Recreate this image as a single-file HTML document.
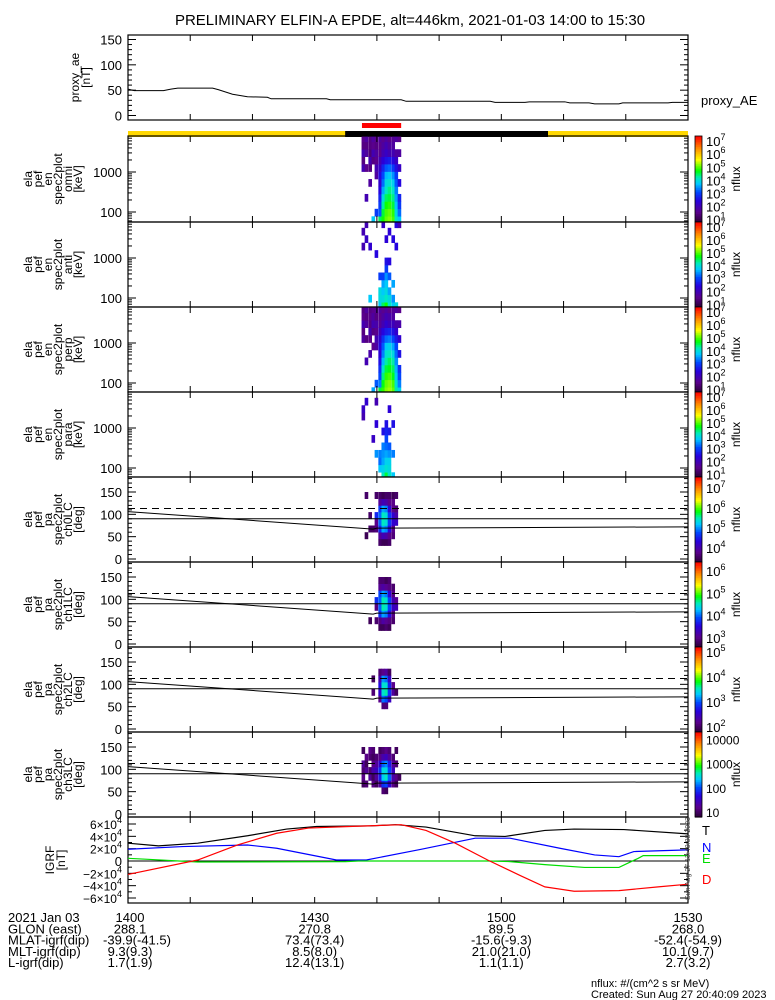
<!DOCTYPE html>
<html><head><meta charset="utf-8">
<style>
body{margin:0;background:#fff}
svg{display:block;font-family:"Liberation Sans",sans-serif}
</style></head>
<body>
<svg id="c" width="775" height="1000" viewBox="0 0 775 1000"></svg>
<script>
// ---------------- DATA ----------------
const aeTimes=[0,1,5.7,6.9,8,13.6,14.5,16.8,19.2,22.4,23,31.9,32.5,43.9,44.7,58.2,59,63.8,64.5,70.2,71,74.1,75,78.9,79.5,86.8,87.5,90];
const aeVals=[52,49,49,52,54,54,51,42,37,36,33,33,31,31,28,28,26,26,27,27,25,25,23,23,25,25,26,26];

const specTimes=[37.8,38.3,38.9,39.4,39.9,40.5,41.0,41.5,42.0,42.6,43.1,43.6];
const specEnergies=[63,97,149,228,350,538,826,1268,1947,2989,4589,7044];
const omniFlux=[
[0,0,0,0,0,0,0,2,1.5,2,1.5,1.6],
[0,0,0,2,0,0,0,1.6,0,1.8,1.5,1.8],
[0,0,0,0,0,1.8,0,1.5,2,1.4,1.5,1.5],
[3.8,0,0,0,0,0,0,0,1.5,2,1.6,1.8],
[0,3,0,0,0,0,1.8,2,1.6,1.8,1.5,1.6],
[4.5,3.2,3,2.8,2.5,2.3,2.5,2.2,2,1.6,1.6,1.8],
[4.8,4.6,4.3,4,3.6,3.3,3.1,2.8,2.4,2,1.8,1.6],
[5.1,5,4.8,4.5,4.2,4,3.7,3.2,2.6,2.2,2,1.8],
[5.2,5.1,4.9,4.6,4.4,4.1,3.8,3.3,2.7,2,1.8,1.6],
[5,4.9,4.6,4.4,4.2,3.9,3.5,3,2.5,2,1.8,1.7],
[4.2,4,3.8,3.6,3.4,3.2,3,2.6,2.2,1.8,0,1.8],
[3.8,3.3,3,2.8,0,2.5,0,2.2,0,1.8,0,1.6]];
const antiFlux=[
[0,0,0,0,0,0,0,0,2,0,2,0],
[0,0,0,0,0,0,0,0,0,2.2,0,2],
[0,3.8,0,0,0,0,0,0,2.3,0,0,0],
[0,0,0,0,0,0,0,0,0,0,0,0],
[0,0,0,0,0,0,0,2.5,0,0,0,0],
[3.8,4,4,0,3,0,0,0,0,0,0,0],
[4.5,4,3.8,3.6,3,0,0,0,0,0,0,2.2],
[4.8,4.2,4,3.8,3.5,3,2.6,0,0,2.4,0,0],
[4.2,4,3.6,0,3.2,0,2.5,0,0,0,2.4,0],
[3.8,3.5,0,3.6,0,0,0,0,0,2.5,0,0],
[4,0,0,0,0,0,0,0,2.5,0,0,2.5],
[0,0,0,0,0,0,0,0,0,0,0,2]];
const perpFlux=[
[0,0,0,0,0,0,0,1.8,1.5,2,1.6,1.5],
[0,0,0,0,2,0,0,1.5,0,1.8,1.5,1.8],
[0,0,0,0,0,1.9,0,1.6,2,1.5,1.6,1.5],
[3.6,0,0,0,0,0,1.6,0,1.5,2,1.8,1.6],
[0,3.2,0,0,0,0,1.8,2,1.6,1.9,1.5,1.7],
[4.6,3.4,3.1,2.9,2.6,2.4,2.5,2.3,2.1,1.7,1.6,1.8],
[4.9,4.7,4.4,4.1,3.7,3.4,3.2,2.9,2.5,2,1.8,1.6],
[5.2,5.1,4.9,4.6,4.3,4.1,3.8,3.3,2.7,2.3,2,1.8],
[5.3,5.2,5,4.7,4.5,4.2,3.9,3.4,2.8,2.1,1.9,1.6],
[5.1,5,4.7,4.5,4.3,4,3.6,3.1,2.6,2.1,1.8,1.7],
[4.3,4.1,3.9,3.7,3.5,3.3,3.1,2.7,2.3,1.9,0,1.8],
[3.9,3.4,3.1,2.9,0,2.6,0,2.3,0,1.9,0,1.6]];
const paraFlux=[
[0,0,0,0,0,0,0,0,2,2.2,0,0],
[0,0,0,0,0,0,0,0,0,0,2.3,0],
[0,0,0,0,0,0,0,0,0,0,0,0],
[0,0,0,0,0,2.2,0,0,0,0,0,0],
[0,0,0,3.5,0,0,0,2.4,0,0,2,0],
[0,3.8,3.3,3.4,0,0,0,0,0,0,0,0],
[4.2,3.9,3.6,3.5,3.4,0,2.6,0,0,0,0,0],
[4.6,4.1,3.9,3.6,3.3,3.1,2.8,2.6,0,0,0,0],
[4.2,4,3.9,3.5,3.2,0,2.7,0,0,2.4,0,0],
[3.8,0,0,3.4,0,0,0,2.6,0,0,0,0],
[0,0,0,0,0,0,0,0,0,0,0,0],
[0,0,0,0,0,0,0,0,0,0,0,0]];

const pitchBins=[7.5,22.5,37.5,52.5,67.5,82.5,97.5,112.5,127.5,142.5,157.5,172.5];
const ch0Flux=[
[0,0,0,0,0,0,0,0,0,0,0,0],
[0,0,0,3.5,0,0,0,0,0,3.6,0,0],
[0,0,0,0,3.6,0,3.6,0,0,0,0,0],
[0,0,0,0,3.6,0,0,0,0,0,0,0],
[0,0,0,0,3.7,3.8,4.6,0,0,3.6,0,0],
[0,0,3.6,3.9,4.6,4.9,4.9,4.7,3.9,3.6,0,0],
[0,0,3.5,4.1,5.1,5.5,5.5,5.1,4.1,3.5,0,0],
[0,0,3.5,4,5,5.4,5.4,5,4,3.6,0,0],
[0,0,3.6,3.8,4.4,4.7,4.7,4.3,3.8,3.6,0,0],
[0,0,0,3.7,3.8,4.3,4.3,3.8,3.8,3.5,0,0],
[0,0,0,0,0,4.2,4,3.7,0,3.6,0,0],
[0,0,0,0,0,0,0,0,0,0,0,0]];
const ch1Flux=[
[0,0,0,0,0,0,0,0,0,0,0,0],
[0,0,0,0,0,0,0,0,0,0,0,0],
[0,0,0,2.8,0,0,0,0,0,0,0,0],
[0,0,0,0,0,0,0,0,0,0,0,0],
[0,0,0,2.9,0,3.0,3.8,0,0,0,0,0],
[0,0,2.8,3.0,3.8,4.0,4.0,3.9,3.1,2.9,0,0],
[0,0,2.8,3.2,4.2,4.6,4.6,4.2,3.2,2.9,0,0],
[0,0,2.9,3.1,4.1,4.5,4.5,4.1,3.1,2.8,0,0],
[0,0,2.8,3.0,3.6,3.9,3.9,3.5,3.0,2.9,0,0],
[0,0,0,2.9,3.0,3.4,3.3,3.0,2.9,0,0,0],
[0,0,0,0,0,3.3,3.1,0,0,0,0,0],
[0,0,0,0,0,0,0,0,0,0,0,0]];
const ch2Flux=[
[0,0,0,0,0,0,0,0,0,0,0,0],
[0,0,0,0,0,0,0,0,0,0,0,0],
[0,0,0,0,0,0,0,0,0,0,0,0],
[0,0,0,0,0,2.1,0,2.0,0,0,0,0],
[0,0,0,0,0,0,0,0,0,0,0,0],
[0,0,0,0,2.2,2.6,2.7,2.4,2.1,0,0,0],
[0,0,0,2.1,3.1,3.5,3.5,3.2,2.2,0,0,0],
[0,0,0,2.1,3.0,3.6,3.5,3.1,2.3,0,0,0],
[0,0,0,0,2.5,2.9,2.8,2.5,2.0,0,0,0],
[0,0,0,0,0,2.3,2.2,0,0,0,0,0],
[0,0,0,0,0,2.0,0,0,0,0,0,0],
[0,0,0,0,0,0,0,0,0,0,0,0]];
const ch3Flux=[
[0,0,0,0,1.0,1.2,1.1,1.3,0,1.0,0,0],
[0,0,0,0,1.1,0,1.3,1.0,1.2,0,0,0],
[0,0,0,0,0,1.3,1.1,0,1.1,1.2,0,0],
[0,0,0,0,1.2,1.0,1.4,1.2,1.0,1.1,0,0],
[0,0,0,0,1.0,1.3,1.5,1.3,1.1,0,0,0],
[0,0,0,0,1.3,1.8,1.9,1.6,1.2,1.0,0,0],
[0,0,0,1.1,1.9,2.4,2.5,2.1,1.4,1.1,0,0],
[0,0,0,1.0,2.0,2.6,2.5,2.2,1.5,1.2,0,0],
[0,0,0,0,1.6,2.1,2.0,1.8,1.3,1.1,0,0],
[0,0,0,0,1.2,1.4,1.5,1.3,1.1,0,0,0],
[0,0,0,0,1.0,1.2,0,1.1,0,1.0,0,0],
[0,0,0,0,0,1.0,0,0,0,0,0,0]];
const lcTimes=[0,39.4,40,90];
const lcVals=[106,67,69,72];
const alcVals=[113,113,113,113];

const igrfTimesT=[0,4.9,11.2,19.2,25.5,30.3,39,43,47.9,55.8,60.6,67,71.7,79.7,90];
const igrfT=[28900,24500,28900,40900,51800,56000,57000,58900,55000,40900,39800,49600,51800,51000,44000];
const igrfTimesD=[0,11.2,17.6,23.9,29,35,43.9,47.9,52.6,57.8,63,67,71.7,78.9,85.2,90];
const igrfD=[-21800,1600,26000,45000,53400,55700,58900,49600,28900,1600,-23400,-42000,-49000,-48000,-42000,-37600];
const igrfTimesN=[0,8.8,19.2,23.9,33.5,38.3,47.1,55.8,61.4,69.4,75,78.9,81.3,90];
const igrfN=[19000,23400,26000,20700,1600,1600,19000,37000,37000,20700,9800,7000,15300,18000];
const igrfTimesE=[0,3.2,11.2,35,37,58,61.4,67,73.4,78.9,82,82.8,90];
const igrfE=[4400,2700,-1600,-1000,0,0,-1000,-5900,-10400,-10400,4400,8700,8700];

const xTickLabels=["1400","1430","1500","1530"];
const xTickTimes=[0,30,60,90];
const glonVals=["288.1","270.8","89.5","268.0"];
const mlatVals=["-39.9(-41.5)","73.4(73.4)","-15.6(-9.3)","-52.4(-54.9)"];
const mltVals=["9.3(9.3)","8.5(8.0)","21.0(21.0)","10.1(9.7)"];
const lVals=["1.7(1.9)","12.4(13.1)","1.1(1.1)","2.7(3.2)"];

// ---------------- DRAW ----------------
const NS="http://www.w3.org/2000/svg";
const svg=document.getElementById('c');
const X0=128,X1=688;
const xs=t=>X0+t*(X1-X0)/90;
function mk(tag,attrs,parent){const e=document.createElementNS(NS,tag);for(const k in attrs)e.setAttribute(k,attrs[k]);(parent||svg).appendChild(e);return e;}
function txt(s,x,y,attrs,parent){const e=mk('text',Object.assign({x:x,y:y,'font-size':12,fill:'#000'},attrs||{}),parent);e.textContent=s;return e;}
const stops=[[0,[40,0,50]],[0.12,[90,0,140]],[0.25,[40,0,220]],[0.35,[0,70,255]],[0.45,[0,200,255]],[0.52,[0,235,190]],[0.6,[0,255,0]],[0.73,[255,255,0]],[0.86,[255,140,0]],[1,[255,0,0]]];
function cmap(f){f=Math.max(0,Math.min(1,f));for(let i=1;i<stops.length;i++){if(f<=stops[i][0]){const a=stops[i-1],b=stops[i];const u=(f-a[0])/(b[0]-a[0]);const c=a[1].map((v,k)=>Math.round(v+(b[1][k]-v)*u));return `rgb(${c[0]},${c[1]},${c[2]})`;}}return 'rgb(255,0,0)';}

// title
const title=txt('PRELIMINARY ELFIN-A EPDE, alt=446km, 2021-01-03 14:00 to 15:30',410,25,{'font-size':15,'text-anchor':'middle'});



function xTicks(g,T,B){for(let t=10;t<90;t+=10){mk('line',{x1:xs(t),x2:xs(t),y1:B,y2:B-6,stroke:'#000'},g);mk('line',{x1:xs(t),x2:xs(t),y1:T,y2:T+6,stroke:'#000'},g);}}
function frame(g,T,B){mk('rect',{x:X0,y:T,width:X1-X0,height:B-T,fill:'none',stroke:'#000','stroke-width':1.2},g);}
function sideLabel(g,lines,T,B,x0,dx){const cy=(T+B)/2;lines.forEach((s,i)=>{const x=x0+i*dx;txt(s,0,0,{'text-anchor':'middle',transform:`translate(${x},${cy}) rotate(-90)`,'font-size':12},g);});}
function yTick(g,y,len){mk('line',{x1:X0,x2:X0+len,y1:y,y2:y,stroke:'#000'},g);mk('line',{x1:X1,x2:X1-len,y1:y,y2:y,stroke:'#000'},g);}
function supLabel(g,base,exp,x,y,size){const e=txt(base,x,y,{'font-size':size||13},g);const s=mk('tspan',{dy:-6,'font-size':9},e);s.textContent=exp;return e;}
function colorbar(g,T,B,lo,hi,labels){const n=50;for(let i=0;i<n;i++){const f=(i+0.5)/n;mk('rect',{x:695,y:B-(i+1)*(B-T)/n,width:7,height:(B-T)/n+0.6,fill:cmap(f)},g);}
  mk('rect',{x:695,y:T,width:7,height:B-T,fill:'none',stroke:'#000','stroke-width':0.8},g);
  labels.forEach(k=>{const y=B-(k-lo)/(hi-lo)*(B-T)+5;if(k>=4&&labels.length===4&&hi<4.5){txt(String(Math.pow(10,k)),706,y,{'font-size':12},g);}else if(labels.length===4&&hi<4.5){txt(String(Math.pow(10,k)),706,y,{'font-size':12},g);}else supLabel(g,'10',String(k),706,y,13);});
  txt('nflux',0,0,{'text-anchor':'middle',transform:`translate(740,${(T+B)/2}) rotate(-90)`,'font-size':12},g);}

// proxy AE panel
(function(){const g=mk('g',{});


const T=35,B=120;const ys=v=>115.5-v*0.5067;
frame(g,T,B);xTicks(g,T,B);
for(let v=0;v<=150;v+=10)yTick(g,ys(v),v%50===0?8:4);
[0,50,100,150].forEach(v=>txt(String(v),122,ys(v)+5,{'text-anchor':'end','font-size':13},g));
sideLabel(g,['proxy_ae','[nT]'],T,B,79,11);
const p=mk('polyline',{points:aeTimes.map((t,i)=>xs(t)+','+ys(aeVals[i])).join(' '),fill:'none',stroke:'#000','stroke-width':1},g);


txt('proxy_AE',701,105,{'font-size':13},g);})();

// bars
const rb=mk('rect',{x:xs(37.6),y:123,width:xs(43.9)-xs(37.6),height:5,fill:'#ff0000'});


const yb=mk('rect',{x:X0,y:131,width:X1-X0,height:6,fill:'#ffd800'});


const bb=mk('rect',{x:xs(34.9),y:131,width:xs(67.5)-xs(34.9),height:6,fill:'#000'});



// spectrogram panels
const specPanels=[[136,222,omniFlux,'omni','energy-spectrogram-omni'],[222,307,antiFlux,'anti','energy-spectrogram-anti'],[307,392,perpFlux,'perp','energy-spectrogram-perp'],[392,477,paraFlux,'para','energy-spectrogram-para']];
const eR=Math.pow(10,0.093);
specPanels.forEach((sp,pi)=>{const [T,B,data,nm,dn]=sp;const g=mk('g',{});


const ys=E=>T+36-(Math.log10(E)-3)*40;
const cid='clip'+pi;const cp=mk('clipPath',{id:cid},g);mk('rect',{x:X0,y:T,width:X1-X0,height:B-T},cp);
const cg=mk('g',{'clip-path':`url(#${cid})`},g);
const lo=0.8,hi=7.4;const dt=0.53;
data.forEach((col,ci)=>{col.forEach((v,ei)=>{if(!v)return;const E=specEnergies[ei];const y1=ys(E*eR),y2=ys(E/eR);
const r=mk('rect',{x:xs(specTimes[ci]-dt/2),y:y1,width:dt*(X1-X0)/90+0.3,height:y2-y1+0.3,fill:cmap((v-lo)/(hi-lo))},cg);

});});
frame(g,T,B);xTicks(g,T,B);
for(let d=1;d<4;d++)for(let m=1;m<10;m++){const E=m*Math.pow(10,d);const y=ys(E);if(y>T&&y<B)yTick(g,y,m===1?8:4);}
txt('1000',122,ys(1000)+5,{'text-anchor':'end','font-size':13},g);
txt('100',122,ys(100)+5,{'text-anchor':'end','font-size':13},g);
sideLabel(g,['ela','pef','en','spec2plot',nm,'[keV]'],T,B,32,10);
colorbar(g,T,B,lo,hi,[7,6,5,4,3,2,1]);});

// pitch panels
const pitchPanels=[[477,562,ch0Flux,'ch0LC',3.3,7.55,[7,6,5,4]],[562,647,ch1Flux,'ch1LC',2.6,6.4,[6,5,4,3]],[647,732,ch2Flux,'ch2LC',1.8,5.2,[5,4,3,2]],[732,817,ch3Flux,'ch3LC',0.8,4.3,[4,3,2,1]]];
pitchPanels.forEach((pp,pi)=>{const [T,B,data,nm,lo,hi,labs]=pp;const g=mk('g',{});


const ys=v=>B-3-v*0.4467;const dt=0.53;
data.forEach((col,ci)=>{col.forEach((v,bi)=>{if(!v)return;const pa=pitchBins[bi];const y1=ys(pa+7.5),y2=ys(pa-7.5);
const r=mk('rect',{x:xs(specTimes[ci]-dt/2),y:y1,width:dt*(X1-X0)/90+0.3,height:y2-y1+0.3,fill:cmap((v-lo)/(hi-lo))},g);

});});
frame(g,T,B);xTicks(g,T,B);
for(let v=0;v<=180;v+=10){const y=ys(v);if(y>T)yTick(g,y,v%50===0?8:4);}
[0,50,100,150].forEach(v=>txt(String(v),122,ys(v)+5,{'text-anchor':'end','font-size':13},g));
const h=mk('line',{x1:X0,x2:X1,y1:ys(90),y2:ys(90),stroke:'#000'},g);


const lc=mk('polyline',{points:lcTimes.map((t,i)=>xs(t)+','+ys(lcVals[i])).join(' '),fill:'none',stroke:'#000'},g);


const alc=mk('polyline',{points:lcTimes.map((t,i)=>xs(t)+','+ys(alcVals[i])).join(' '),fill:'none',stroke:'#000','stroke-dasharray':'7,5'},g);


sideLabel(g,['ela','pef','pa','spec2plot',nm,'[deg]'],T,B,32,10);
if(hi<4.5){const n=50;for(let i=0;i<n;i++){mk('rect',{x:695,y:B-(i+1)*(B-T)/n,width:7,height:(B-T)/n+0.6,fill:cmap((i+0.5)/n)},g);}
 mk('rect',{x:695,y:T,width:7,height:B-T,fill:'none',stroke:'#000','stroke-width':0.8},g);
 labs.forEach(k=>txt(String(Math.pow(10,k)),706,B-(k-lo)/(hi-lo)*(B-T)+5,{'font-size':12},g));
 txt('nflux',0,0,{'text-anchor':'middle',transform:`translate(740,${(T+B)/2}) rotate(-90)`,'font-size':12},g);}
else colorbar(g,T,B,lo,hi,labs);});

// IGRF panel
(function(){const T=817,B=903;const g=mk('g',{});


const ys=v=>861-v/60000*37;
frame(g,T,B);xTicks(g,T,B);
for(let v=-60000;v<=60000;v+=10000)yTick(g,ys(v),v%20000===0?8:4);
mk('line',{x1:X0,x2:X1,y1:ys(0),y2:ys(0),stroke:'#000'},g);
[6,4,2,-2,-4,-6].forEach(k=>{const e=txt((k<0?'−':'')+Math.abs(k)+'×10',122,ys(k*10000)+5,{'text-anchor':'end','font-size':12},g);const s=mk('tspan',{dy:-6,'font-size':9},e);s.textContent='4';});
txt('0',122,ys(0)+5,{'text-anchor':'end','font-size':13},g);
sideLabel(g,['IGRF','[nT]'],T,B,54,11);
const series=[[igrfTimesT,igrfT,'#000','igrf-t-line'],[igrfTimesN,igrfN,'#0000ff','igrf-n-line'],[igrfTimesE,igrfE,'#00dd00','igrf-e-line'],[igrfTimesD,igrfD,'#ff0000','igrf-d-line']];
series.forEach(s=>{const p=mk('polyline',{points:s[0].map((t,i)=>xs(t)+','+ys(s[1][i])).join(' '),fill:'none',stroke:s[2],'stroke-width':1.2},g);

});
txt('T',702,835,{'font-size':13,fill:'#000'},g);
txt('N',702,852,{'font-size':13,fill:'#0000ff'},g);
txt('E',702,863,{'font-size':13,fill:'#00dd00'},g);
txt('D',702,884,{'font-size':13,fill:'#ff0000'},g);
txt('Sun Aug 27 13:40:08 2023',0,0,{'font-size':7,fill:'#444',transform:'translate(690,900) rotate(-90)'},g);})();

// bottom annotation
(function(){const g=mk('g',{});


const rows=[['2021 Jan 03',xTickLabels],['GLON (east)',glonVals],['MLAT-igrf(dip)',mlatVals],['MLT-igrf(dip)',mltVals],['L-igrf(dip)',lVals]];
const cx=xTickTimes.map(t=>xs(t));cx[0]=130;
rows.forEach((r,i)=>{const y=922+i*11.3;txt(r[0],8,y,{'font-size':13},g);
r[1].forEach((s,j)=>txt(s,(i===2&&j===0)?137:cx[j],y,{'font-size':13,'text-anchor':'middle'},g));});
txt('nflux: #/(cm^2 s sr MeV)',591,987,{'font-size':11},g);
txt('Created: Sun Aug 27 20:40:09 2023',591,998,{'font-size':11},g);})();
</script>
</body></html>
